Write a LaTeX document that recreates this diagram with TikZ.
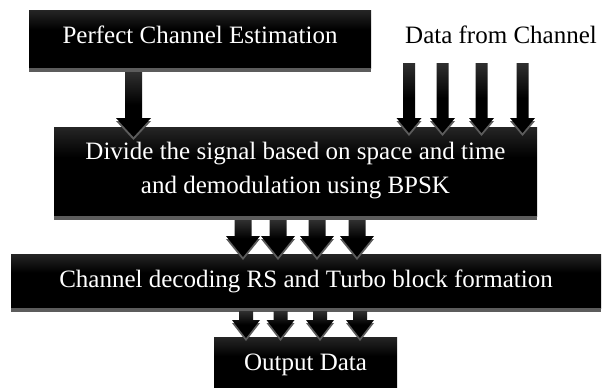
\documentclass[tikz,border=0pt]{standalone}
\usepackage{fontspec}
\setmainfont{Liberation Serif}
\usetikzlibrary{calc}
\definecolor{boxtop}{RGB}{92,92,92}
\definecolor{arrtop}{RGB}{95,95,95}
\definecolor{shadowgray}{RGB}{92,92,92}
\pgfdeclareverticalshading{boxshade}{100bp}{color(0bp)=(black); color(58bp)=(black); color(100bp)=(boxtop)}
\pgfdeclareverticalshading{arrshade}{100bp}{color(0bp)=(black); color(50bp)=(black); color(100bp)=(arrtop)}
\newcommand\blkarr[6]{% x, ytop, yheadstart, ytip, half shaft, half head
  \fill[shadowgray] (#1-#6,#3+3) -- (#1,#4+3) -- (#1+#6,#3+3) -- cycle;
  \shade[shading=arrshade] (#1-#5,#2) -- (#1+#5,#2) -- (#1+#5,#3) -- (#1+#6,#3) -- (#1,#4) -- (#1-#6,#3) -- (#1-#5,#3) -- cycle;
}
\begin{document}
\begin{tikzpicture}[x=1pt,y=-1pt,
  box/.style={shading=boxshade, inner sep=0pt, outer sep=0pt, rectangle},
  txt/.style={text=white, anchor=base, inner sep=0pt, font=\fontsize{25}{34}\selectfont},
  plain/.style={text=black, anchor=base, inner sep=0pt, font=\fontsize{25}{34}\selectfont}]
\useasboundingbox[fill=white] (0,0) rectangle (603,388);
% boxes
\node[box, minimum width=342pt, minimum height=58pt] (b1) at (200,39) {};
\node[box, minimum width=483pt, minimum height=89pt] (b2) at (295.5,171.5) {};
\node[box, minimum width=590pt, minimum height=54pt] (b3) at (306,281) {};
\node[box, minimum width=183pt, minimum height=56pt] (b4) at (305.5,365) {};
% shadows
\fill[shadowgray] (b1.south west) rectangle ($(b1.south east)+(0,4)$);
\fill[shadowgray] (b2.south west) rectangle ($(b2.south east)+(0,4)$);
\fill[shadowgray] (b3.south west) rectangle ($(b3.south east)+(0,4)$);
% texts
\node[txt] (t1) at (200,43) {Perfect Channel Estimation};
\node[plain] (t0) at (501,43) {Data from Channel};
\node[txt] (t2a) at (295.5,159) {Divide the signal based on space and time};
\node[txt] (t2b) at (295.5,193) {and demodulation using BPSK};
\node[txt] (t3) at (306,287) {Channel decoding RS and Turbo block formation};
\node[txt] (t4) at (305.5,370) {Output Data};
% arrows b1 -> b2
\blkarr{133.5}{72}{118}{137}{8.5}{17.5}
% data arrows -> b2
\blkarr{409}{63}{118}{133}{6}{12.5}
\blkarr{442.5}{63}{118}{133}{6}{12.5}
\blkarr{481.5}{63}{118}{133}{6}{12.5}
\blkarr{522.5}{63}{118}{133}{6}{12.5}
% b2 -> b3
\blkarr{243}{220}{236}{257}{8.5}{17}
\blkarr{278}{220}{236}{257}{8.5}{17}
\blkarr{317}{220}{236}{257}{8.5}{17}
\blkarr{357}{220}{236}{257}{8.5}{17}
% b3 -> b4
\blkarr{246}{311}{320}{338}{7}{14}
\blkarr{280.5}{311}{320}{338}{7}{14}
\blkarr{320}{311}{320}{338}{7}{14}
\blkarr{360}{311}{320}{338}{7}{14}
\end{tikzpicture}
\end{document}
